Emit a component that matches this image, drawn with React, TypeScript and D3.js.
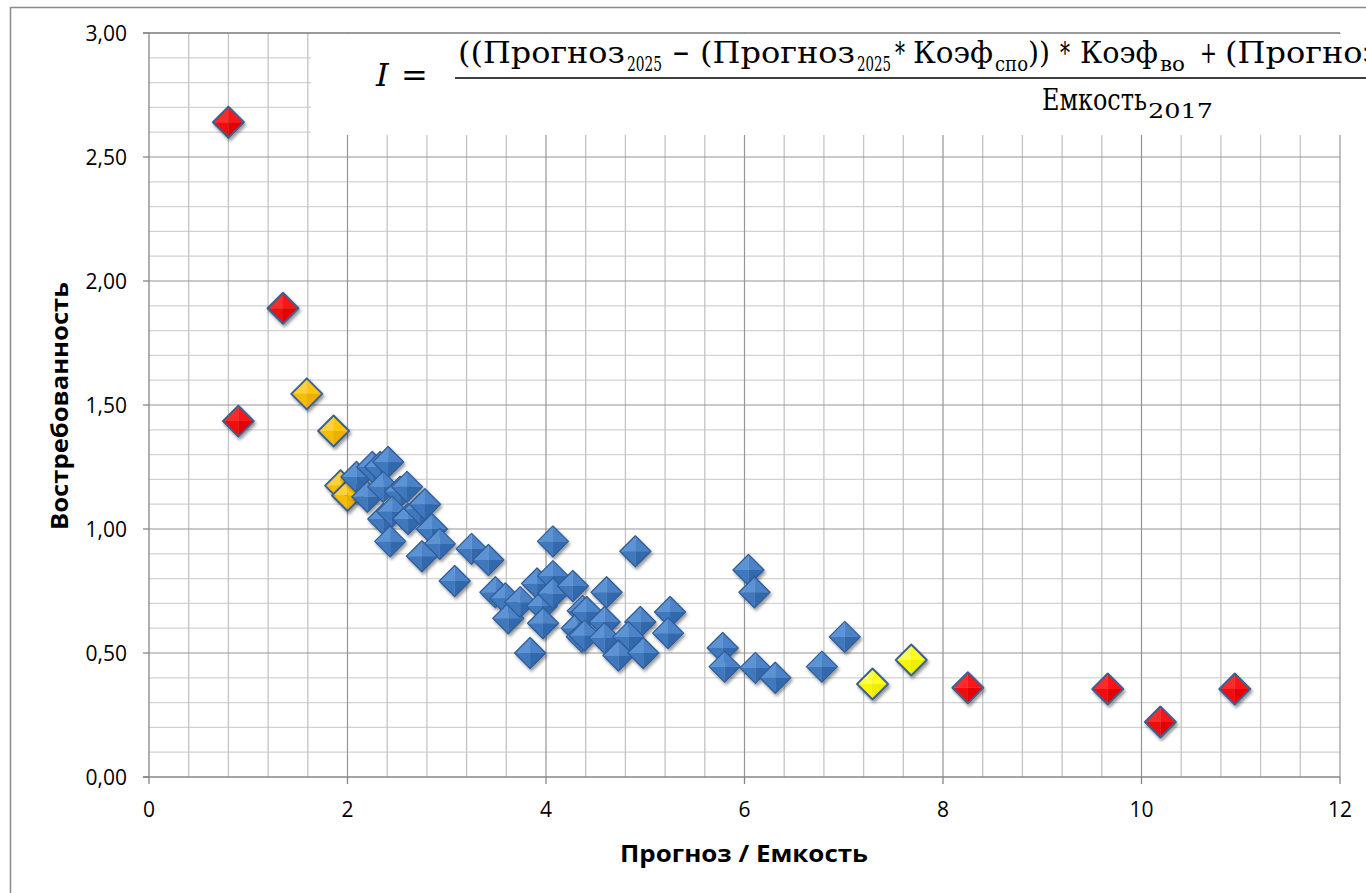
import React from 'react';
import * as d3 from 'd3';

// ---- DATA ----
const xTicks = [0, 2, 4, 6, 8, 10, 12];
const yTicks = [0, 0.5, 1, 1.5, 2, 2.5, 3];

const redPoints: [number, number][] = [
  [0.8, 2.64], [1.35, 1.89], [0.9, 1.435], [8.25, 0.36], [9.66, 0.355], [10.19, 0.222], [10.94, 0.355],
];
const goldPoints: [number, number][] = [
  [1.59, 1.545], [1.86, 1.395], [1.93, 1.175], [2.0, 1.135],
];
const yellowPoints: [number, number][] = [
  [7.29, 0.375], [7.68, 0.472],
];
const bluePoints: [number, number][] = [
  [2.09, 1.21], [2.25, 1.25], [2.33, 1.25], [2.41, 1.27], [2.2, 1.13], [2.36, 1.17],
  [2.53, 1.15], [2.6, 1.17], [2.36, 1.04], [2.45, 1.07], [2.61, 1.04], [2.73, 1.08],
  [2.78, 1.1], [2.43, 0.95], [2.85, 1.0], [2.93, 0.94], [2.75, 0.89], [3.08, 0.79],
  [3.25, 0.92], [3.42, 0.875], [4.07, 0.95], [3.49, 0.745], [3.59, 0.72], [3.62, 0.64],
  [3.74, 0.705], [3.91, 0.78], [4.07, 0.81], [3.96, 0.69], [4.07, 0.74], [4.27, 0.77],
  [3.97, 0.62], [4.37, 0.67], [4.31, 0.6], [4.36, 0.565], [3.84, 0.5], [4.9, 0.91],
  [4.61, 0.745], [4.41, 0.665], [4.59, 0.625], [4.39, 0.57], [4.59, 0.56], [4.95, 0.625],
  [4.83, 0.565], [4.73, 0.49], [4.98, 0.5], [5.25, 0.665], [5.23, 0.58], [6.04, 0.835],
  [6.1, 0.745], [5.78, 0.52], [5.8, 0.445], [6.11, 0.44], [6.31, 0.4], [6.78, 0.445],
  [7.01, 0.565],
];

const W = 1366, H = 893;
const x = d3.scaleLinear().domain([0, 12]).range([149, 1340]);
const y = d3.scaleLinear().domain([0, 3]).range([777, 33]);

const fmt = (v: number) => d3.format('.2f')(v).replace('.', ',');

type Palette = { ul: string; ur: string; ll: string; lr: string; stroke: string; sw: number };
const BLUE: Palette = { ul: '#5c93d4', ur: '#4b82c8', ll: '#4078be', lr: '#3369ad', stroke: '#2f5d97', sw: 1.3 };
const RED: Palette = { ul: '#ff2a2a', ur: '#fa1212', ll: '#f20808', lr: '#e40000', stroke: '#3e6190', sw: 2 };
const GOLD: Palette = { ul: '#ffd23a', ur: '#ffc60a', ll: '#f8bc00', lr: '#ecb000', stroke: '#3e6190', sw: 2 };
const YELLOW: Palette = { ul: '#ffff50', ur: '#ffff1a', ll: '#f7f700', lr: '#eeee00', stroke: '#3e6190', sw: 2 };

const R = 15.5;

function Diamonds({ pts, pal }: { pts: [number, number][]; pal: Palette }) {
  return (
    <g filter="url(#shadow)">
      {pts.map((p, i) => (
        <g key={i} transform={`translate(${x(p[0])},${y(p[1])})`}>
          <path d={`M0,${-R}L${-R},0L0,0Z`} fill={pal.ul} />
          <path d={`M0,${-R}L${R},0L0,0Z`} fill={pal.ur} />
          <path d={`M${-R},0L0,${R}L0,0Z`} fill={pal.ll} />
          <path d={`M${R},0L0,${R}L0,0Z`} fill={pal.lr} />
          <path d={`M0,${-R}L${R},0L0,${R}L${-R},0Z`} fill="none" stroke={pal.stroke} strokeWidth={pal.sw} strokeLinejoin="round" />
        </g>
      ))}
    </g>
  );
}

export default function App() {
  const minorX = d3.range(0.4, 12, 0.4).map(v => Math.round(v * 10) / 10).filter(v => Math.abs(v / 2 - Math.round(v / 2)) > 1e-6);
  const minorY = d3.range(1, 30).map(v => v / 10).filter(v => Math.abs(v * 2 - Math.round(v * 2)) > 1e-6);
  const ff = '"DejaVu Serif", serif';
  const main = 30, sub = 20;
  const nb = 63, sb = 71;
  const seg = (t: string, x0: number, len: number, base: number, size: number, key: string) => (
    <text key={key} x={x0} y={base} fontSize={size} fontFamily={ff} textLength={len} lengthAdjust="spacingAndGlyphs">{t}</text>
  );
  const sans = '"Open Sans", sans-serif';
  return (
    <svg width={W} height={H} style={{ position: 'absolute', left: 0, top: 0, background: '#fff' }}>
      <defs>
        <filter id="shadow" x="-50%" y="-50%" width="200%" height="200%">
          <feDropShadow dx="1.5" dy="2.5" stdDeviation="1.6" floodColor="#000" floodOpacity="0.4" />
        </filter>
      </defs>
      <rect x={0} y={0} width={W} height={H} fill="#fff" />
      <rect x={10.5} y={7.5} width={1500} height={1000} fill="none" stroke="#8a8a8a" strokeWidth={1.5} />

      {/* minor grid */}
      {minorY.map(v => (
        <line key={'my' + v} x1={x(0)} x2={x(12)} y1={y(v)} y2={y(v)} stroke="#d2d2d2" strokeWidth={1.3} />
      ))}
      {minorX.map(v => (
        <line key={'mx' + v} x1={x(v)} x2={x(v)} y1={y(0)} y2={y(3)} stroke="#c4c4c4" strokeWidth={1.3} />
      ))}
      {/* major grid */}
      {yTicks.filter(v => v > 0).map(v => (
        <line key={'gy' + v} x1={x(0)} x2={x(12)} y1={y(v)} y2={y(v)} stroke="#959595" strokeWidth={1.2} />
      ))}
      {xTicks.filter(v => v > 0).map(v => (
        <line key={'gx' + v} x1={x(v)} x2={x(v)} y1={y(0)} y2={y(3)} stroke="#959595" strokeWidth={1.2} />
      ))}

      {/* formula box covering grid */}
      <rect x={311} y={y(3) + 1} width={1100} height={101} fill="#fff" />
      <line x1={143} x2={x(12)} y1={y(3)} y2={y(3)} stroke="#8a8a8a" strokeWidth={1.3} />

      {/* axes */}
      <line x1={x(0)} x2={x(0)} y1={y(3)} y2={y(0)} stroke="#868686" strokeWidth={1.3} />
      <line x1={143} x2={x(12)} y1={y(0)} y2={y(0)} stroke="#868686" strokeWidth={1.3} />
      {yTicks.map(v => (
        <g key={'ty' + v}>
          <line x1={143} x2={x(0)} y1={y(v)} y2={y(v)} stroke="#868686" strokeWidth={1.3} />
          <text x={127} y={y(v) + 7.5} textAnchor="end" fontSize={21} fontFamily={sans} fill="#000">{fmt(v)}</text>
        </g>
      ))}
      {xTicks.map(v => (
        <g key={'tx' + v}>
          <line x1={x(v)} x2={x(v)} y1={y(0)} y2={y(0) + 7} stroke="#868686" strokeWidth={1.3} />
          <text x={x(v)} y={817} textAnchor="middle" fontSize={21} fontFamily={sans} fill="#000">{v}</text>
        </g>
      ))}

      {/* axis titles */}
      <text x={620} y={862} fontSize={24} fontWeight="bold" fontFamily={sans} textLength={248} lengthAdjust="spacingAndGlyphs">Прогноз / Емкость</text>
      <text transform="translate(68,530) rotate(-90)" fontSize={24} fontWeight="bold" fontFamily={sans} textLength={248} lengthAdjust="spacingAndGlyphs">Востребованность</text>

      {/* formula */}
      <g fill="#000">
        <text x={376} y={86} fontSize={32} fontStyle="italic" fontFamily={ff}>I</text>
        <text x={401} y={86} fontSize={32} fontFamily={ff}>=</text>
        <line x1={455} x2={1366} y1={78} y2={78} stroke="#000" strokeWidth={1.6} />
        {seg('((Прогноз', 458, 167, nb, main, 'a')}
        {seg('2025', 627, 35, sb, sub, 'b')}
        {seg('−', 672, 18, nb, main, 'c')}
        {seg('(Прогноз', 700, 155, nb, main, 'd')}
        {seg('2025', 857, 34, sb, sub, 'e')}
        {seg('*', 895, 10, nb, main, 'f')}
        {seg('Коэф', 913, 80, nb, main, 'g')}
        {seg('спо', 995, 33, sb, sub, 'h')}
        {seg('))', 1028, 22, nb, main, 'i')}
        {seg('*', 1060, 10, nb, main, 'j')}
        {seg('Коэф', 1080, 78, nb, main, 'k')}
        {seg('во', 1160, 25, sb, sub, 'l')}
        {seg('+', 1200, 17, nb, main, 'm')}
        {seg('(Прогноз', 1225, 155, nb, main, 'n')}
        {seg('Емкость', 1042, 105, 110, main, 'o')}
        {seg('2017', 1148, 65, 118, sub, 'p')}
      </g>

      {/* series */}
      <Diamonds pts={goldPoints} pal={GOLD} />
      <Diamonds pts={bluePoints} pal={BLUE} />
      <Diamonds pts={yellowPoints} pal={YELLOW} />
      <Diamonds pts={redPoints} pal={RED} />
    </svg>
  );
}
